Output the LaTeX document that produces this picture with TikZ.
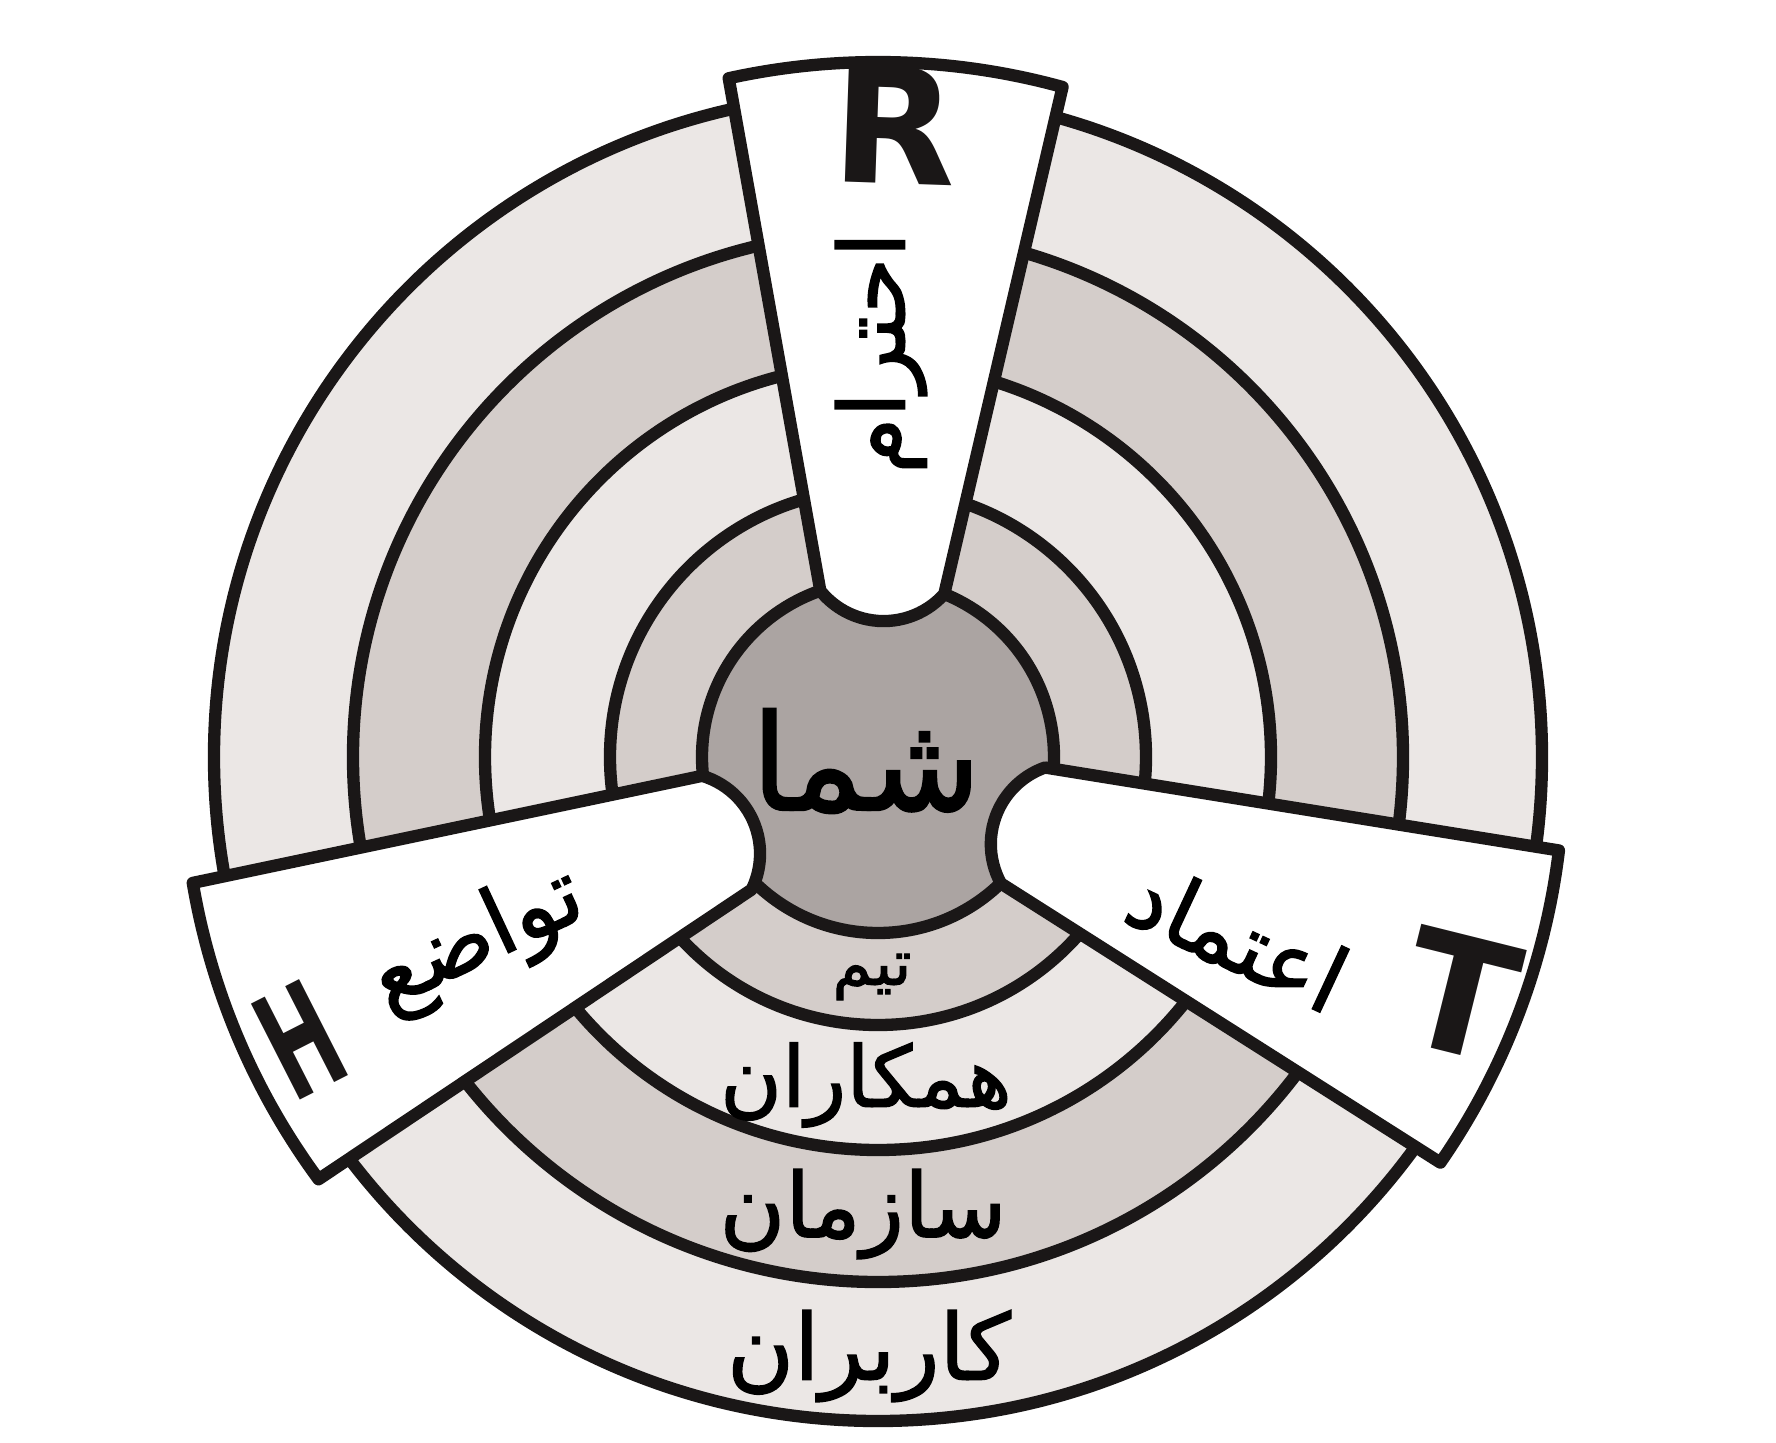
\documentclass[tikz,border=0pt]{standalone}
\usepackage{fontspec}
\usepackage{tikz}
\usetikzlibrary{positioning}
\TeXXeTstate=1
\newfontfamily\farsi[Script=Arabic, FakeBold=1.6]{DejaVu Sans}
\newfontfamily\letterfont{DejaVu Sans}
\newfontfamily\narrowletter[FakeStretch=0.56]{DejaVu Sans}
\newcommand{\fa}[1]{{\farsi\beginR #1\endR}}
\definecolor{ringlight}{HTML}{EBE7E5}
\definecolor{ringmid}{HTML}{D4CDCA}
\definecolor{coregray}{HTML}{ABA4A2}
\definecolor{inkline}{HTML}{1A1717}
\tikzset{
  ring/.style={
    draw=inkline,
    line width=3.5pt
  }
}
\tikzset{
  light ring/.style={
    ring,
    fill=ringlight
  }
}
\tikzset{
  mid ring/.style={
    ring,
    fill=ringmid
  }
}
\tikzset{
  core ring/.style={
    ring,
    fill=coregray
  }
}
\tikzset{
  pillar/.style={
    draw=inkline,
    fill=white,
    line width=3.5pt,
    line join=round
  }
}
\tikzset{
  ring text/.style={
    inner sep=0pt,
    text=black
  }
}
\tikzset{
  letter mark/.style={
    inner sep=0pt,
    text=inkline,
    font=\letterfont\bfseries\fontsize{46}{46}\selectfont
  }
}
% one white pillar: #1 angle, #2 shift, #3 / #4 outer half widths
\newcommand{\drawpillar}[4]{%
  \draw[pillar, shift={#2}, rotate=#1]
    (164.7,62) -- ({695*cos(asin(#4/695))},#4)
    arc[start angle={asin(#4/695)}, end angle={-asin(#3/695)}, radius=695]
    -- (164.7,-62)
    arc[start angle=-130.3, end angle=-229.7, radius=81.3]
    -- cycle;
}

\begin{document}
\begin{tikzpicture}[x=0.01cm, y=0.01cm]

    \path[use as bounding box, fill=white] (-878,-685) rectangle (898,757);

    % ------------------------------------------------------------
    % Rings
    % ------------------------------------------------------------

    \draw[light ring] (0,0) circle[radius=664];
    \draw[mid ring]   (0,0) circle[radius=525];
    \draw[light ring] (0,0) circle[radius=393];
    \draw[mid ring]   (0,0) circle[radius=268];
    \draw[core ring]  (0,0) circle[radius=176];

    % ------------------------------------------------------------
    % Pillars
    % ------------------------------------------------------------

    \drawpillar{88.5}{(0,0)}{167}{167}
    \drawpillar{203.5}{(0,-10)}{167}{155}
    \drawpillar{-20.8}{(-9,-10)}{167}{167}

    % ------------------------------------------------------------
    % Texts
    % ------------------------------------------------------------

    \node[ring text, font=\fontsize{38}{38}\selectfont] (you) at (-12,-4) {\fa{شما}};
    \node[ring text, font=\fontsize{18}{18}\selectfont] (team) at (-6,-220) {\fa{تیم}};
    \node[ring text, font=\fontsize{24}{24}\selectfont] (colleagues) at (-12,-328) {\fa{همکاران}};
    \node[ring text, font=\fontsize{25.5}{26}\selectfont] (org) at (-15,-457) {\fa{سازمان}};
    \node[ring text, font=\fontsize{26}{26}\selectfont] (users) at (-9,-599) {\fa{کاربران}};

    \node[ring text, font=\fontsize{26}{26}\selectfont, rotate=90] (respect) at (3,404) {\fa{احترام}};
    \node[ring text, font=\fontsize{26}{26}\selectfont, rotate=-25] (trust) at (360,-180) {\fa{اعتماد}};
    \node[ring text, font=\fontsize{26}{26}\selectfont, rotate=25] (humility) at (-400,-184) {\fa{تواضع}};

    \node[letter mark, rotate=-2] (R) at (17,632) {R};
    \node[letter mark, rotate=-14] (T) at (582,-238) {T};
    \node[letter mark, font=\narrowletter\bfseries\fontsize{42}{42}\selectfont, rotate=27] (H) at (-578,-283) {H};

\end{tikzpicture}
\end{document}
